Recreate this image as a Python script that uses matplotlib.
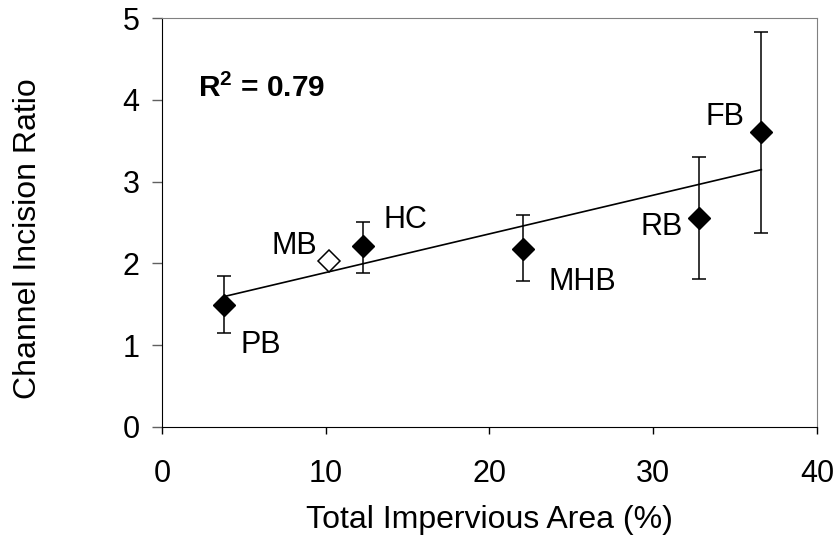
import matplotlib
matplotlib.use("Agg")
import matplotlib.pyplot as plt

plt.rcParams["font.family"] = ["Liberation Sans", "DejaVu Sans"]
plt.rcParams["mathtext.fontset"] = "custom"
plt.rcParams["mathtext.rm"] = "Liberation Sans"
plt.rcParams["mathtext.bf"] = "Liberation Sans:bold"

# watersheds with error bars (filled diamonds)
sites = ["PB", "HC", "MHB", "RB", "FB"]
tia = [3.8, 12.3, 22.05, 32.8, 36.6]
ratio = [1.49, 2.21, 2.18, 2.55, 3.61]
err_lo = [1.15, 1.88, 1.79, 1.81, 2.37]
err_hi = [1.85, 2.51, 2.59, 3.30, 4.83]

# open diamond
mb_x = [10.2]
mb_y = [2.03]

# regression line end points
trend_x = [3.8, 36.6]
trend_y = [1.595, 3.146]

# label positions (data coords)
lab_xy = {"PB": (4.8, 1.0), "MB": (6.7, 2.21), "HC": (13.5, 2.53),
          "MHB": (23.6, 1.77), "RB": (29.2, 2.45), "FB": (33.2, 3.79)}

fig = plt.figure(figsize=(8.34, 5.36), dpi=100)
ax = fig.add_axes([0.1942, 0.2034, 0.7854, 0.763])

yerr = [[r - lo for r, lo in zip(ratio, err_lo)],
        [hi - r for r, hi in zip(ratio, err_hi)]]
ax.plot(trend_x, trend_y, color="black", lw=1.2, zorder=2)
ax.errorbar(tia, ratio, yerr=yerr, fmt="D", color="black", ms=11.5,
            ecolor="black", elinewidth=1.1, capsize=5, capthick=1.1, zorder=3)
ax.plot(mb_x, mb_y, "D", ms=11, mfc="white", mec="black", mew=1.1, zorder=3)

for name, (lx, ly) in lab_xy.items():
    ax.text(lx, ly, name, fontsize=22, va="center", ha="left")

ax.text(2.2, 4.03, r"$\mathbf{R^2}$" + " = 0.79", fontsize=21.5, fontweight="bold",
        va="baseline", ha="left")

ax.set_xlim(0, 40)
ax.set_ylim(0, 5)
ax.set_xticks([0, 10, 20, 30, 40])
ax.set_yticks([0, 1, 2, 3, 4, 5])
ax.tick_params(axis="both", direction="out", width=1, labelsize=22)
ax.tick_params(axis="x", length=5, pad=18)
ax.tick_params(axis="y", length=7, pad=9, color="#606060")
for s in ["top", "right"]:
    ax.spines[s].set_color("#808080")
for s in ["left", "bottom"]:
    ax.spines[s].set_color("black")

ax.set_xlabel("Total Impervious Area (%)", fontsize=23)
ax.set_ylabel("Channel Incision Ratio", fontsize=23)
ax.xaxis.set_label_coords(0.5, -0.19)
ax.yaxis.set_label_coords(-0.182, 0.46)

fig.savefig("out.png", dpi=100)
